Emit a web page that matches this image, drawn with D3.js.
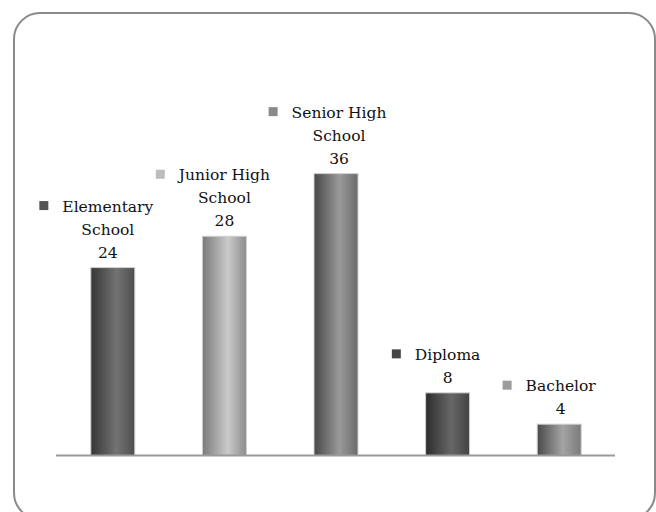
<!DOCTYPE html>
<html>
<head>
<meta charset="utf-8">
<script src="https://cdn.jsdelivr.net/npm/d3@7"></script>
<style>
  html, body { margin: 0; padding: 0; background: #fff; }
  svg { display: block; }
  text { font-family: "Palatino Linotype", "Book Antiqua", Palatino, "DejaVu Serif", serif; fill: #111; }
</style>
</head>
<body>
<svg id="chart" width="656" height="512"></svg>
<script>
// Education level counts
const categories = ["Elementary School", "Junior High School", "Senior High School", "Diploma", "Bachelor"];
const values = [24, 28, 36, 8, 4];
// Label lines above each bar (name split across lines)
const labelLines = [
  ["Elementary", "School"],
  ["Junior High", "School"],
  ["Senior High", "School"],
  ["Diploma"],
  ["Bachelor"]
];

// Cylinder-like shading per bar: [left, highlight, right]
const barShades = [
  ["#353535", "#737373", "#4e4e4e"],
  ["#7a7a7a", "#cacaca", "#8c8c8c"],
  ["#474747", "#9a9a9a", "#6a6a6a"],
  ["#2c2c2c", "#676767", "#434343"],
  ["#4a4a4a", "#a4a4a4", "#7a7a7a"]
];
const markerColors = ["#555555", "#bdbdbd", "#8a8a8a", "#454545", "#9c9c9c"];
// Horizontal nudge of each label block relative to its bar centre
const labelNudge = [-5, 0, 3, 0, 1.5];

const svg = d3.select("#chart");

// Rounded frame
svg.append("rect")
  .attr("x", 14).attr("y", 13)
  .attr("width", 641).attr("height", 506)
  .attr("rx", 26).attr("ry", 26)
  .attr("fill", "none")
  .attr("stroke", "#8a8a8a")
  .attr("stroke-width", 2);

const x = d3.scaleBand()
  .domain(categories)
  .range([57, 615])
  .paddingInner(0.606)
  .paddingOuter(0.303);

const y = d3.scaleLinear()
  .domain([0, 40])
  .range([455.5, 142.3]);

// Gradients
const defs = svg.append("defs");
categories.forEach((c, i) => {
  const g = defs.append("linearGradient")
    .attr("id", "shade" + i)
    .attr("x1", "0%").attr("x2", "100%")
    .attr("y1", "0%").attr("y2", "0%");
  g.append("stop").attr("offset", "0%").attr("stop-color", barShades[i][0]);
  g.append("stop").attr("offset", "58%").attr("stop-color", barShades[i][1]);
  g.append("stop").attr("offset", "100%").attr("stop-color", barShades[i][2]);
});

// Bars
svg.append("g").selectAll("rect")
  .data(categories)
  .join("rect")
  .attr("x", d => x(d))
  .attr("y", (d, i) => y(values[i]))
  .attr("width", x.bandwidth())
  .attr("height", (d, i) => y(0) - y(values[i]))
  .attr("fill", (d, i) => `url(#shade${i})`)
  .attr("stroke", "#d0d0d0")
  .attr("stroke-width", 1);

// Category axis line
const axis = d3.axisBottom(x).tickSize(0).tickFormat("");
const axisG = svg.append("g")
  .attr("transform", `translate(0,${y(0)})`)
  .call(axis);
axisG.select(".domain")
  .attr("stroke", "#9a9a9a")
  .attr("stroke-width", 2)
  .attr("d", "M56,0H615");

// Data labels: legend key + category name + value
const lineGap = 23;
const fontSize = 15.5;
categories.forEach((c, i) => {
  const cx = x(c) + x.bandwidth() / 2 + labelNudge[i];
  const valueBase = y(values[i]) - 10;
  const lines = labelLines[i];
  const g = svg.append("g");

  g.append("text")
    .attr("x", cx).attr("y", valueBase)
    .attr("text-anchor", "middle")
    .attr("font-size", fontSize)
    .text(values[i]);

  const textEls = lines.map((ln, k) => {
    const base = valueBase - lineGap * (lines.length - k);
    return g.append("text")
      .attr("x", cx).attr("y", base)
      .attr("text-anchor", "middle")
      .attr("font-size", fontSize)
      .text(ln);
  });

  const first = textEls[0];
  const w = first.node().getComputedTextLength();
  const firstBase = valueBase - lineGap * lines.length;
  const size = 9;
  g.append("rect")
    .attr("x", cx - w / 2 - 14 - size)
    .attr("y", firstBase - 6 - size / 2)
    .attr("width", size).attr("height", size)
    .attr("fill", markerColors[i]);
});
</script>
</body>
</html>
